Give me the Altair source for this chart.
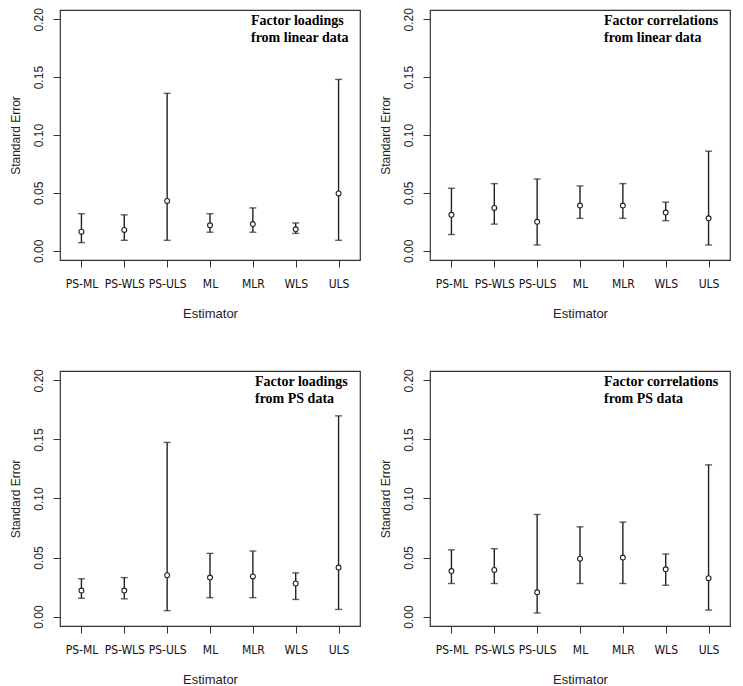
import altair as alt
import pandas as pd

estimators = ["PS-ML", "PS-WLS", "PS-ULS", "ML", "MLR", "WLS", "ULS"]

# Panel 1: Factor loadings from linear data
fl_lin_est = [0.0165, 0.018, 0.043, 0.022, 0.023, 0.0185, 0.0495]
fl_lin_lo = [0.007, 0.009, 0.009, 0.016, 0.016, 0.015, 0.009]
fl_lin_hi = [0.032, 0.031, 0.136, 0.032, 0.037, 0.024, 0.148]

# Panel 2: Factor correlations from linear data
fc_lin_est = [0.031, 0.037, 0.025, 0.039, 0.039, 0.033, 0.028]
fc_lin_lo = [0.014, 0.023, 0.005, 0.028, 0.028, 0.026, 0.005]
fc_lin_hi = [0.054, 0.058, 0.062, 0.056, 0.058, 0.042, 0.086]

# Panel 3: Factor loadings from PS data
fl_ps_est = [0.022, 0.022, 0.035, 0.033, 0.034, 0.028, 0.0415]
fl_ps_lo = [0.0155, 0.015, 0.005, 0.016, 0.016, 0.0145, 0.006]
fl_ps_hi = [0.032, 0.033, 0.1475, 0.0535, 0.0555, 0.037, 0.170]

# Panel 4: Factor correlations from PS data
fc_ps_est = [0.0385, 0.0395, 0.0205, 0.049, 0.050, 0.040, 0.0325]
fc_ps_lo = [0.028, 0.028, 0.003, 0.028, 0.028, 0.0265, 0.0055]
fc_ps_hi = [0.0565, 0.0575, 0.0865, 0.076, 0.080, 0.053, 0.1285]

panel_labels = [
    ["Factor loadings", "from linear data"],
    ["Factor correlations", "from linear data"],
    ["Factor loadings", "from PS data"],
    ["Factor correlations", "from PS data"],
]
label_widths = [109, 126, 105, 126]

W = 300
H_TOP, H_BOT = 250, 255
INK = "#222222"
FRAME = "#333333"

y_scale = alt.Scale(domain=[-0.008, 0.208], nice=False, zero=False)
x_scale = alt.Scale(type="point", padding=0.5, domain=estimators)

x_axis = alt.Axis(
    title="Estimator", labelAngle=0, tickSize=7, labelPadding=11,
    labelFont="Liberation Sans Narrow, DejaVu Sans Condensed, Lato",
    labelFontSize=12, labelColor="#111",
    titleFont="Liberation Sans", titleFontSize=13, titleFontWeight="normal",
    titleColor="#222", titlePadding=17, minExtent=30, maxExtent=30,
    domain=False, grid=False, tickColor=FRAME,
)
y_axis = alt.Axis(
    title="Standard Error", values=[0, 0.05, 0.1, 0.15, 0.2], format=".2f",
    labelAngle=270, labelAlign="center", labelBaseline="bottom",
    tickSize=7, labelPadding=8, labelFont="Liberation Sans", labelFontSize=12,
    labelColor="#222", titleFont="Liberation Sans", titleFontSize=12,
    titleFontWeight="normal", titleColor="#222", titlePadding=8,
    minExtent=30, maxExtent=30, domain=False, grid=False, tickColor=FRAME,
)


def panel(est, lo, hi, lines, lw, h):
    df = pd.DataFrame({"Estimator": estimators, "est": est, "lo": lo, "hi": hi})
    base = alt.Chart(df)
    rules = base.mark_rule(color=INK, strokeWidth=1.4).encode(
        x=alt.X("Estimator:N", scale=x_scale, axis=x_axis, sort=estimators),
        y=alt.Y("lo:Q", scale=y_scale, axis=y_axis),
        y2="hi:Q",
    )
    cap_lo = base.mark_tick(color=INK, size=7, thickness=1.4, orient="horizontal").encode(
        x=alt.X("Estimator:N", scale=x_scale, sort=estimators),
        y=alt.Y("lo:Q", scale=y_scale),
    )
    cap_hi = base.mark_tick(color=INK, size=7, thickness=1.4, orient="horizontal").encode(
        x=alt.X("Estimator:N", scale=x_scale, sort=estimators),
        y=alt.Y("hi:Q", scale=y_scale),
    )
    pts = base.mark_point(shape="circle", filled=True, fill="white", stroke=INK,
                          strokeWidth=1.1, size=24, opacity=1).encode(
        x=alt.X("Estimator:N", scale=x_scale, sort=estimators),
        y=alt.Y("est:Q", scale=y_scale),
    )
    txt = alt.Chart(pd.DataFrame({"t": ["\n".join(lines)]})).mark_text(
        align="left", baseline="top", font="Liberation Serif", fontSize=14,
        fontWeight="bold", color="#000", lineBreak="\n", lineHeight=17,
    ).encode(x=alt.value(W - lw), y=alt.value(4), text="t:N")
    return alt.layer(rules, cap_lo, cap_hi, pts, txt).properties(
        width=W, height=h,
        view=alt.ViewBackground(stroke=FRAME, strokeWidth=1.2, fill="white"),
    )


p1 = panel(fl_lin_est, fl_lin_lo, fl_lin_hi, panel_labels[0], label_widths[0], H_TOP)
p2 = panel(fc_lin_est, fc_lin_lo, fc_lin_hi, panel_labels[1], label_widths[1], H_TOP)
p3 = panel(fl_ps_est, fl_ps_lo, fl_ps_hi, panel_labels[2], label_widths[2], H_BOT)
p4 = panel(fc_ps_est, fc_ps_lo, fc_ps_hi, panel_labels[3], label_widths[3], H_BOT)

chart = alt.vconcat(
    alt.hconcat(p1, p2, spacing=17),
    alt.hconcat(p3, p4, spacing=17),
    spacing=47,
).properties(
    padding={"left": 0, "top": -2, "right": 2, "bottom": 0},
).configure_view(
    stroke=FRAME, strokeWidth=1.2,
).configure(background="white")

chart.save("out.html", embed_options={"renderer": "svg", "actions": False})
